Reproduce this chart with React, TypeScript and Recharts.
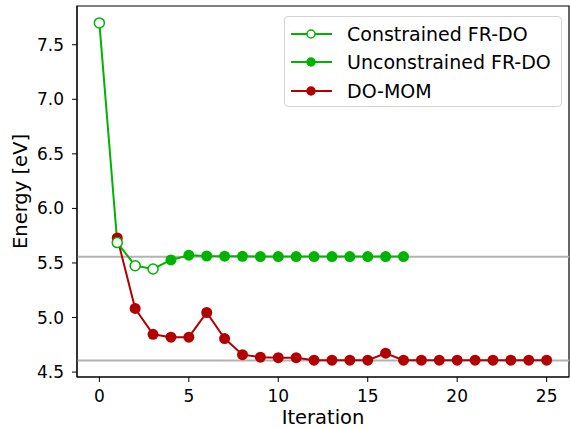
import { LineChart, Line, XAxis, YAxis, ReferenceLine, ReferenceArea } from 'recharts'

// iterations and energies (eV)
const constrainedIter = [0, 1, 2, 3, 4]
const constrainedEnergy = [7.70, 5.687, 5.475, 5.445, 5.528]

const unconstrainedIter = [4, 5, 6, 7, 8, 9, 10, 11, 12, 13, 14, 15, 16, 17]
const unconstrainedEnergy = [5.528, 5.571, 5.564, 5.562, 5.561, 5.559, 5.559, 5.559, 5.559, 5.559, 5.559, 5.559, 5.559, 5.559]

const doMomIter = [1, 2, 3, 4, 5, 6, 7, 8, 9, 10, 11, 12, 13, 14, 15, 16, 17, 18, 19, 20, 21, 22, 23, 24, 25]
const doMomEnergy = [5.73, 5.083, 4.846, 4.82, 4.82, 5.046, 4.807, 4.66, 4.637, 4.632, 4.632, 4.609, 4.609, 4.609, 4.609, 4.673, 4.609, 4.609, 4.609, 4.609, 4.609, 4.609, 4.609, 4.609, 4.609]

const referenceEnergies = [5.558, 4.607]

const iterTicks = [0, 5, 10, 15, 20, 25]
const energyTicks = [4.5, 5.0, 5.5, 6.0, 6.5, 7.0, 7.5]

const legendLabels = ['Constrained FR-DO', 'Unconstrained FR-DO', 'DO-MOM']

const GREEN = '#00b300'
const RED = '#b30000'
const FONT = '"DejaVu Sans", sans-serif'

const xDomain = [-1.25, 26.25]
const yDomain = [4.455, 7.855]

const toRows = (xs: number[], ys: number[]) => xs.map((x, i) => ({ x, y: ys[i] }))

const constrainedData = toRows(constrainedIter, constrainedEnergy)
const unconstrainedData = toRows(unconstrainedIter, unconstrainedEnergy)
const doMomData = toRows(doMomIter, doMomEnergy)

const OpenDot = (props: any) => {
  const { cx, cy, index } = props
  // last point belongs to the unconstrained run
  if (index === constrainedData.length - 1) return <g key={`o-${index}`} />
  return <circle key={`o-${index}`} cx={cx} cy={cy} r={5} fill="#fff" stroke={GREEN} strokeWidth={1.5} />
}

const legendItems = [
  { label: legendLabels[0], color: GREEN, open: true },
  { label: legendLabels[1], color: GREEN, open: false },
  { label: legendLabels[2], color: RED, open: false },
]

function ChartLegend() {
  return (
    <div
      style={{
        position: 'absolute',
        left: 284,
        top: 16,
        width: 278,
        height: 91,
        boxSizing: 'border-box',
        border: '1px solid #d4d4d4',
        borderRadius: 4,
        background: 'rgba(255,255,255,0.8)',
        fontFamily: FONT,
        fontSize: 19,
        color: '#000',
      }}
    >
      {legendItems.map((it, i) => (
        <div key={it.label} style={{ position: 'absolute', left: 6, top: 3 + i * 28.3, height: 28, display: 'flex', alignItems: 'center', whiteSpace: 'nowrap' }}>
          <svg width={42} height={28}>
            <line x1={0} y1={14} x2={41} y2={14} stroke={it.color} strokeWidth={2} />
            <circle cx={20} cy={14} r={4} fill={it.open ? '#fff' : it.color} stroke={it.color} strokeWidth={1.5} />
          </svg>
          <span style={{ marginLeft: 14 }}>{it.label}</span>
        </div>
      ))}
    </div>
  )
}

export default function App() {
  return (
    <div style={{ position: 'absolute', left: 0, top: 0, width: 570, height: 428, background: '#fff' }}>
      <LineChart width={570} height={428} margin={{ top: 6, right: 1, bottom: 0, left: 0 }}>
        <XAxis
          type="number"
          dataKey="x"
          domain={xDomain}
          ticks={iterTicks}
          allowDataOverflow
          height={51}
          tickSize={5}
          tickMargin={8}
          stroke="#000"
          tick={{ fill: '#000', fontSize: 17, fontFamily: FONT }}
          label={{
            content: (p: any) => {
              const vb = p.viewBox
              return (
                <text x={vb.x + vb.width / 2} y={424} textAnchor="middle" fontSize={19.5} fontFamily={FONT} fill="#000">
                  Iteration
                </text>
              )
            },
          }}
        />
        <YAxis
          type="number"
          dataKey="y"
          domain={yDomain}
          ticks={energyTicks}
          allowDataOverflow
          width={77}
          tickSize={5}
          tickMargin={8}
          stroke="#000"
          tickFormatter={(v: number) => v.toFixed(1)}
          tick={{ fill: '#000', fontSize: 17, fontFamily: FONT }}
          label={{
            content: (p: any) => {
              const vb = p.viewBox
              const cx = 20
              const cy = vb.y + vb.height / 2
              return (
                <text
                  x={cx}
                  y={cy}
                  transform={`rotate(-90 ${cx} ${cy})`}
                  textAnchor="middle"
                  dominantBaseline="central"
                  fontSize={19.5}
                  fontFamily={FONT}
                  fill="#000"
                >
                  Energy [eV]
                </text>
              )
            },
          }}
        />
        {referenceEnergies.map((e) => (
          <ReferenceLine key={e} y={e} stroke="#b3b3b3" strokeWidth={2} />
        ))}
        <Line
          data={doMomData}
          dataKey="y"
          stroke={RED}
          strokeWidth={2}
          dot={{ r: 5.5, fill: RED, stroke: RED, strokeWidth: 0 }}
          isAnimationActive={false}
        />
        <Line
          data={unconstrainedData}
          dataKey="y"
          stroke={GREEN}
          strokeWidth={2}
          dot={{ r: 5.5, fill: GREEN, stroke: GREEN, strokeWidth: 0 }}
          isAnimationActive={false}
        />
        <Line
          data={constrainedData}
          dataKey="y"
          stroke={GREEN}
          strokeWidth={2}
          dot={OpenDot}
          isAnimationActive={false}
        />
        <ReferenceArea x1={xDomain[0]} x2={xDomain[1]} y1={yDomain[0]} y2={yDomain[1]} fill="none" fillOpacity={0} stroke="#000" strokeWidth={1.2} />
      </LineChart>
      <ChartLegend />
    </div>
  )
}
